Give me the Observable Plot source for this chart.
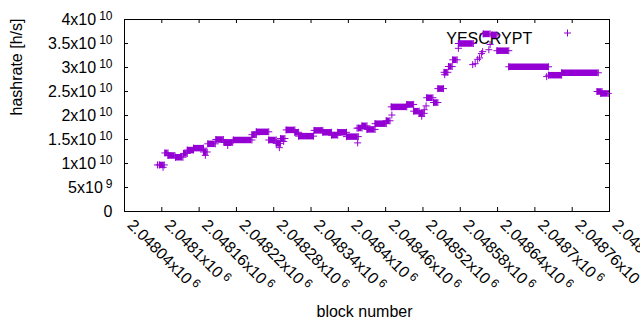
<!DOCTYPE html>
<html><head><meta charset="utf-8">
<script src="https://cdn.jsdelivr.net/npm/d3@7"></script>
<script src="https://cdn.jsdelivr.net/npm/@observablehq/plot@0.6"></script>
<style>
html,body{margin:0;padding:0;background:#fff;}
#chart{width:640px;height:330px;}
</style></head><body><div id="chart"></div>
<script>
// ---- data ----
const xDomain = [2048040, 2048820];
const yDomain = [0, 4e10];
const xTicks = [2048040, 2048100, 2048160, 2048220, 2048280, 2048340, 2048400, 2048460, 2048520, 2048580, 2048640, 2048700, 2048760, 2048820];
const xTickLabels = ["2.04804x10^6", "2.0481x10^6", "2.04816x10^6", "2.04822x10^6", "2.04828x10^6", "2.04834x10^6", "2.0484x10^6", "2.04846x10^6", "2.04852x10^6", "2.04858x10^6", "2.04864x10^6", "2.0487x10^6", "2.04876x10^6", "2.04882x10^6"];
const yTicks = [0, 5e9, 1e10, 1.5e10, 2e10, 2.5e10, 3e10, 3.5e10, 4e10];
const yTickLabels = ["0", "5x10^9", "1x10^10", "1.5x10^10", "2x10^10", "2.5x10^10", "3x10^10", "3.5x10^10", "4x10^10"];
const xLabel = "block number";
const yLabel = "hashrate [h/s]";
const seriesName = "YESCRYPT";

// runs of consecutive blocks with the same hashrate
const runStart = [2048096, 2048105, 2048110, 2048122, 2048135, 2048141, 2048151, 2048167, 2048174, 2048187, 2048200, 2048215, 2048245, 2048252, 2048272, 2048284, 2048291, 2048300, 2048314, 2048320, 2048345, 2048359, 2048373, 2048383, 2048397, 2048416, 2048422, 2048430, 2048443, 2048461, 2048469, 2048494, 2048505, 2048514, 2048526, 2048537, 2048544, 2048554, 2048561, 2048568, 2048577, 2048617, 2048631, 2048639, 2048658, 2048722, 2048743, 2048800, 2048806];
const runEnd   = [2048104, 2048110, 2048121, 2048134, 2048141, 2048151, 2048167, 2048173, 2048186, 2048199, 2048214, 2048245, 2048252, 2048272, 2048284, 2048291, 2048298, 2048314, 2048320, 2048344, 2048359, 2048373, 2048383, 2048397, 2048416, 2048422, 2048430, 2048443, 2048461, 2048467, 2048494, 2048505, 2048514, 2048522, 2048536, 2048544, 2048553, 2048560, 2048567, 2048575, 2048601, 2048628, 2048639, 2048658, 2048722, 2048743, 2048802, 2048808, 2048818];
const runHash  = [9.7e9, 1.22e10, 1.167e10, 1.13e10, 1.21e10, 1.28e10, 1.32e10, 1.24e10, 1.41e10, 1.50e10, 1.44e10, 1.49e10, 1.60e10, 1.66e10, 1.49e10, 1.42e10, 1.52e10, 1.70e10, 1.65e10, 1.57e10, 1.69e10, 1.65e10, 1.59e10, 1.65e10, 1.56e10, 1.74e10, 1.785e10, 1.71e10, 1.83e10, 1.89e10, 2.18e10, 2.23e10, 2.09e10, 2.045e10, 2.37e10, 2.27e10, 2.56e10, 2.90e10, 3.02e10, 3.16e10, 3.50e10, 3.70e10, 3.68e10, 3.35e10, 3.015e10, 2.84e10, 2.89e10, 2.50e10, 2.46e10];

// isolated points
const ptBlock = [2048093, 2048102, 2048170, 2048206, 2048289, 2048296, 2048414, 2048415, 2048470, 2048518, 2048522, 2048525, 2048555, 2048577, 2048600, 2048604, 2048608, 2048611, 2048614, 2048616, 2048626, 2048628, 2048719];
const ptHash  = [9.7e9, 9.2e9, 1.17e10, 1.375e10, 1.33e10, 1.46e10, 1.735e10, 1.43e10, 2.01e10, 1.985e10, 2.12e10, 2.2e10, 2.85e10, 3.40e10, 3.06e10, 3.08e10, 3.17e10, 3.20e10, 3.29e10, 3.33e10, 3.37e10, 3.48e10, 2.81e10];

// ---- chart ----
const color = "#9400d3";
const FS = 16;
const plot = Plot.plot({
  width: 640, height: 330,
  marginLeft: 124, marginRight: 31, marginTop: 19, marginBottom: 119,
  x: {domain: xDomain, axis: null},
  y: {domain: yDomain, axis: null},
  style: {fontFamily: '"Liberation Sans", Arial, sans-serif', fontSize: "16px", color: "black", background: "white"},
  marks: [
    Plot.frame({stroke: "black"}),
    Plot.ruleX(xTicks, {x: d => d, y1: yDomain[0], y2: yDomain[0], insetTop: -4, stroke: "black"}),
    Plot.ruleX(xTicks, {x: d => d, y1: yDomain[1], y2: yDomain[1], insetBottom: -4, stroke: "black"}),
    Plot.ruleY(yTicks, {y: d => d, x1: xDomain[0], x2: xDomain[0], insetRight: -4, stroke: "black"}),
    Plot.ruleY(yTicks, {y: d => d, x1: xDomain[1], x2: xDomain[1], insetLeft: -4, stroke: "black"}),
    Plot.text(xTicks, {x: d => d, text: (d, i) => xTickLabels[i], frameAnchor: "bottom", rotate: 45, textAnchor: "start", dx: 2, dy: 14.5, fontSize: FS}),
    Plot.text(yTicks, {y: d => d, text: (d, i) => yTickLabels[i], frameAnchor: "left", textAnchor: "end", dx: -12, fontSize: FS}),
    Plot.text([yLabel], {text: d => d, frameAnchor: "left", rotate: -90, dx: -107.5, fontSize: FS}),
    Plot.text([xLabel], {text: d => d, frameAnchor: "bottom", dx: -2.5, dy: 105.6, fontSize: FS}),
    Plot.text([seriesName], {text: d => d, frameAnchor: "top-right", textAnchor: "end", dx: -77.3, dy: 12.9, fontSize: FS}),
    Plot.dot([seriesName], {frameAnchor: "top-right", dx: -42, dy: 13.5, symbol: "plus", r: 2.4, stroke: color, strokeWidth: 1}),
    Plot.ruleY(runHash, {y: d => d, x1: (d, i) => runStart[i], x2: (d, i) => runEnd[i], stroke: color, strokeWidth: 6.5}),
    Plot.dot(runStart, {x: d => d, y: (d, i) => runHash[i], symbol: "plus", r: 2.4, stroke: color, strokeWidth: 1}),
    Plot.dot(runEnd, {x: d => d, y: (d, i) => runHash[i], symbol: "plus", r: 2.4, stroke: color, strokeWidth: 1}),
    Plot.dot(ptBlock, {x: d => d, y: (d, i) => ptHash[i], symbol: "plus", r: 2.4, stroke: color, strokeWidth: 1})
  ]
});
// superscripts (enhanced-text style "x10^{n}")
const NS = "http://www.w3.org/2000/svg";
plot.querySelectorAll("text").forEach(t => {
  const s = t.textContent, k = s.indexOf("^");
  if (k < 0) return;
  t.textContent = "";
  const a = document.createElementNS(NS, "tspan");
  a.textContent = s.slice(0, k);
  const b = document.createElementNS(NS, "tspan");
  b.textContent = s.slice(k + 1);
  b.setAttribute("dx", "3");
  b.setAttribute("dy", "-5");
  b.setAttribute("font-size", "12");
  t.append(a, b);
});
document.getElementById("chart").append(plot);
</script></body></html>
